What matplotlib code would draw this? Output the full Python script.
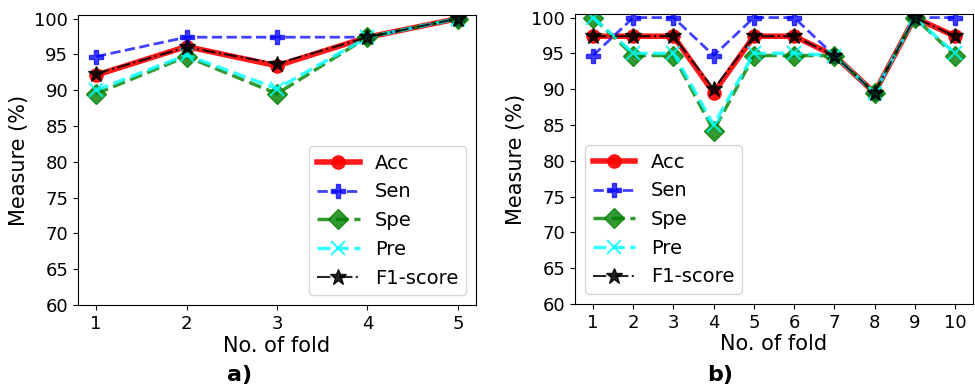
import matplotlib
matplotlib.use("Agg")
import matplotlib.pyplot as plt

folds_a = [1, 2, 3, 4, 5]
acc_a = [92.1, 96.1, 93.4, 97.4, 100.0]
sen_a = [94.7, 97.4, 97.4, 97.4, 100.0]
spe_a = [89.5, 94.7, 89.5, 97.4, 100.0]
pre_a = [90.0, 94.9, 90.2, 97.4, 100.0]
f1_a = [92.3, 96.0, 93.7, 97.4, 100.0]

folds_b = [1, 2, 3, 4, 5, 6, 7, 8, 9, 10]
acc_b = [97.4, 97.4, 97.4, 89.5, 97.4, 97.4, 94.7, 89.5, 100.0, 97.4]
sen_b = [94.7, 100.0, 100.0, 94.7, 100.0, 100.0, 94.7, 89.5, 100.0, 100.0]
spe_b = [100.0, 94.7, 94.7, 84.2, 94.7, 94.7, 94.7, 89.5, 100.0, 94.7]
pre_b = [100.0, 95.0, 95.0, 85.0, 95.0, 95.0, 94.7, 89.5, 100.0, 95.0]
f1_b = [97.4, 97.4, 97.4, 90.0, 97.4, 97.4, 94.7, 89.5, 100.0, 97.4]

labels = ["Acc", "Sen", "Spe", "Pre", "F1-score"]

fig = plt.figure(figsize=(9.75, 3.9), dpi=100)
ax1 = fig.add_axes([78/975, 1 - 305/390, 398/975, 290/390])
ax2 = fig.add_axes([575/975, 1 - 304/390, 398/975, 290/390])

def draw(ax, x, acc, sen, spe, pre, f1, loc):
    ax.plot(x, acc, color="red", lw=4, marker="o", ms=9.5, alpha=0.9, label=labels[0])
    ax.plot(x, sen, color="blue", lw=2, ls="--", marker="P", ms=10, alpha=0.75, label=labels[1])
    ax.plot(x, spe, color="green", lw=2.5, ls="--", marker="D", ms=10, alpha=0.8, label=labels[2])
    ax.plot(x, pre, color="cyan", lw=2.5, ls="--", marker="x", ms=10, mew=1.5, alpha=0.8, label=labels[3])
    ax.plot(x, f1, color="black", lw=1.5, ls="-.", marker="*", ms=12, alpha=0.85, label=labels[4])
    ax.set_ylim(60, 100.5)
    ax.set_yticks(range(60, 101, 5))
    ax.set_xticks(x)
    ax.tick_params(labelsize=13)
    ax.set_xlabel("No. of fold", fontsize=15, labelpad=2)
    ax.set_ylabel("Measure (%)", fontsize=15)
    ax.legend(loc=loc, fontsize=14, handlelength=2.2)

draw(ax1, folds_a, acc_a, sen_a, spe_a, pre_a, f1_a, "lower right")
draw(ax2, folds_b, acc_b, sen_b, spe_b, pre_b, f1_b, "lower left")

fig.text(240/975, 1 - 375/390, "a)", fontsize=16, fontweight="bold", ha="center", va="center")
fig.text(720/975, 1 - 375/390, "b)", fontsize=16, fontweight="bold", ha="center", va="center")

fig.savefig("out.png", dpi=100)
